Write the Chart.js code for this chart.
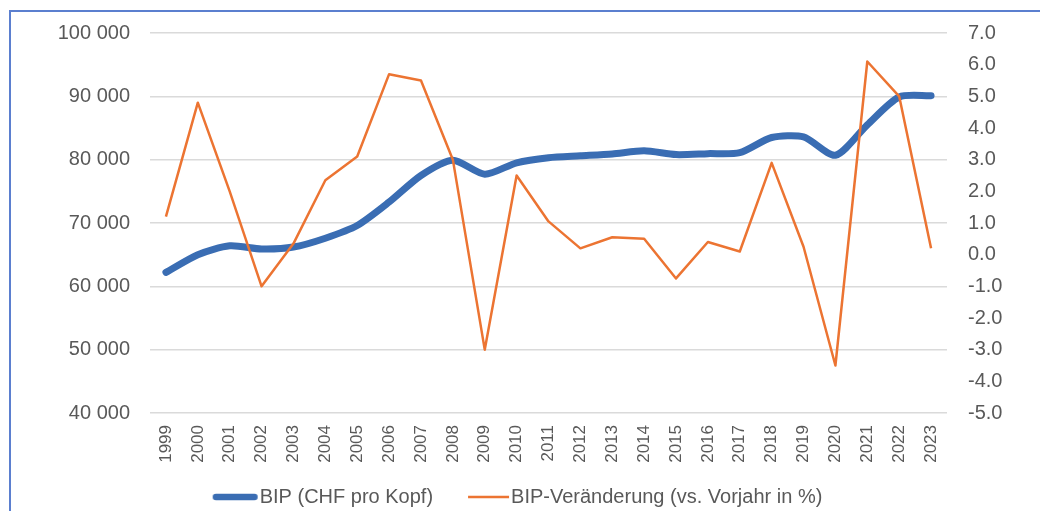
<!DOCTYPE html>
<html>
<head>
<meta charset="utf-8">
<script src="https://cdn.jsdelivr.net/npm/chart.js@4/dist/chart.umd.min.js"></script>
<style>
  html, body { margin: 0; padding: 0; background: #fff; }
  #frame {
    position: absolute; left: 9px; top: 10px; width: 1040px; height: 520px;
    border-left: 2px solid #5b7fcf; border-top: 2px solid #5b7fcf;
  }
  #wrap { position: absolute; left: 0; top: 0; width: 1040px; height: 511px; }
</style>
</head>
<body>
<div id="frame"></div>
<div id="wrap"><canvas id="myChart" width="1040" height="511"></canvas></div>
<script>
// data
const years = ['1999', '2000', '2001', '2002', '2003', '2004', '2005', '2006', '2007', '2008',
  '2009', '2010', '2011', '2012', '2013', '2014', '2015', '2016', '2017', '2018',
  '2019', '2020', '2021', '2022', '2023'];
const bipProKopf = [62200, 65000, 66400, 65900, 66200, 67600, 69600, 73300, 77500, 79900,
  77700, 79500, 80300, 80600, 80900, 81400, 80800, 80950, 81100, 83500,
  83600, 80700, 85500, 89900, 90100];
const bipVeraenderung = [1.2, 4.8, 2.0, -1.0, 0.35, 2.35, 3.1, 5.7, 5.5, 3.0,
  -3.0, 2.5, 1.05, 0.2, 0.55, 0.5, -0.75, 0.4, 0.1, 2.9,
  0.25, -3.5, 6.1, 5.0, 0.2];
const leftTicks = [40000, 100000, 10000];   // min, max, step
const rightTicks = [-5, 7, 1];

const textGrey = '#595959';
const blue = '#3a6db3';
const orange = '#ec7432';
const fontFam = 'Liberation Sans, Arial, sans-serif';

function spaced(v) {
  return String(v).replace(/\B(?=(\d{3})+(?!\d))/g, ' ');
}

// legend sample: a short line sitting at the right end of a small canvas,
// so it ends right next to the text like in the original
function legendLine(color, width, len, cap) {
  const c = document.createElement('canvas');
  c.width = 64; c.height = 10;
  const g = c.getContext('2d');
  g.strokeStyle = color; g.lineWidth = width; g.lineCap = cap;
  const pad = cap === 'round' ? width / 2 : 0;
  g.beginPath();
  g.moveTo(64 - 1 - len + pad, 5);
  g.lineTo(64 - 1 - pad, 5);
  g.stroke();
  return c;
}
const legendStyles = [legendLine(blue, 6.5, 45, 'round'), legendLine(orange, 2.5, 41, 'butt')];

const chart = new Chart('myChart', {
  type: 'line',
  data: {
    labels: years,
    datasets: [{
      label: 'BIP (CHF pro Kopf)',
      data: bipProKopf,
      yAxisID: 'y',
      borderColor: blue,
      backgroundColor: blue,
      borderWidth: 7,
      borderCapStyle: 'round',
      borderJoinStyle: 'round',
      tension: 0.25,
      pointRadius: 0,
      order: 1
    }, {
      label: 'BIP-Veränderung (vs. Vorjahr in %)',
      data: bipVeraenderung,
      yAxisID: 'y1',
      borderColor: orange,
      backgroundColor: orange,
      borderWidth: 2.5,
      borderJoinStyle: 'round',
      tension: 0,
      pointRadius: 0,
      order: 0
    }]
  },
  options: {
    responsive: false,
    animation: false,
    layout: { padding: { top: 22, left: 0, right: 14, bottom: -6 } },
    plugins: {
      tooltip: { enabled: false },
      legend: {
        position: 'bottom',
        labels: {
          usePointStyle: true,
          pointStyleWidth: 46,
          padding: 22,
          color: textGrey,
          font: { family: fontFam, size: 20 },
          generateLabels: c => {
            const items = Chart.defaults.plugins.legend.labels.generateLabels(c);
            items.sort((a, b) => a.datasetIndex - b.datasetIndex);
            items.forEach(it => { it.pointStyle = legendStyles[it.datasetIndex]; });
            return items;
          }
        }
      }
    },
    scales: {
      x: {
        offset: true,
        grid: { display: false, drawTicks: false },
        border: { display: false },
        ticks: {
          minRotation: 90, maxRotation: 90, padding: 12,
          color: textGrey,
          font: { family: fontFam, size: 17 }
        },
        afterFit: s => { s.height = 52; }
      },
      y: {
        position: 'left',
        min: leftTicks[0], max: leftTicks[1],
        grid: { color: '#dadada', lineWidth: 1.5, drawTicks: false },
        border: { display: false },
        ticks: {
          stepSize: leftTicks[2], padding: 20,
          color: textGrey,
          font: { family: fontFam, size: 20 },
          callback: v => spaced(v)
        },
        afterFit: s => { s.width = 150; }
      },
      y1: {
        position: 'right',
        min: rightTicks[0], max: rightTicks[1],
        grid: { display: false, drawTicks: false },
        border: { display: false },
        ticks: {
          stepSize: rightTicks[2], padding: 21,
          color: textGrey,
          font: { family: fontFam, size: 20 },
          callback: v => Number(v).toFixed(1)
        },
        afterFit: s => { s.width = 79; }
      }
    }
  }
});
</script>
</body>
</html>
